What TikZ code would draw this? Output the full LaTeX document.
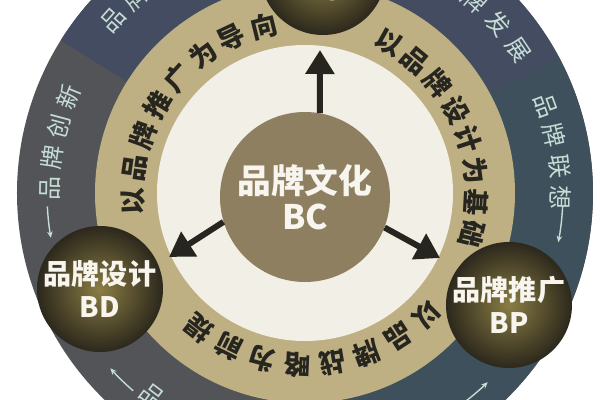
\documentclass[tikz,border=0pt]{standalone}
\usepackage{fontspec}
\usepackage{xcolor}
\usepackage{tikz}
\usetikzlibrary{arrows.meta}
\newfontfamily\cjk{Noto Sans CJK SC}
\definecolor{cream}{HTML}{F2EFE6}
\definecolor{khaki}{HTML}{BEB082}
\definecolor{corefill}{HTML}{8E7F60}
\definecolor{ringgray}{HTML}{525458}
\definecolor{ringslate}{HTML}{434C60}
\definecolor{ringteal}{HTML}{3D505B}
\definecolor{ringtext}{HTML}{C6DDD6}
\definecolor{ink}{HTML}{26251F}
\definecolor{ballin}{HTML}{8A7D44}
\definecolor{ballout}{HTML}{2C281C}
\definecolor{paper}{HTML}{F7F5EE}
\tikzset{
  ball/.style={circle, minimum size=31.5mm, inner sep=0pt, inner color=ballin, outer color=ballout,
    text=paper, align=center, font=\cjk\bfseries\fontsize{20}{23}\selectfont},
  core/.style={circle, minimum size=42.5mm, inner sep=0pt, fill=corefill,
    text=paper, align=center, font=\cjk\bfseries\fontsize{24}{26}\selectfont},
  arr/.style={draw=ink, line width=1.5mm, -{Triangle[length=6mm,width=7mm]}},
  midch/.style={text=ink, inner sep=0pt, font=\cjk\bfseries\fontsize{19}{19}\selectfont},
  outch/.style={text=ringtext, inner sep=0pt, font=\cjk\fontsize{17}{17}\selectfont},
  ringarr/.style={draw=ringtext, line width=0.35mm, -{Stealth[length=1.6mm,width=1.4mm]}},
}
\begin{document}
\begin{tikzpicture}[x=0.25mm, y=0.25mm]
  \useasboundingbox (-305,-207) rectangle (295,193);
  \clip (-305,-207) rectangle (295,193);
  \fill[white] (-305,-207) rectangle (295,193);
  % rings
  \fill[ringgray] (0,0) circle (288);
  \fill[ringslate] (0,0) -- (28:288) arc (28:148:288) -- cycle;
  \fill[ringteal] (0,0) -- (-90:288) arc (-90:28:288) -- cycle;
  \fill[khaki] (0,0) circle (210);
  \fill[cream] (0,0) circle (148);
  % outer ring words
  \foreach \ch [count=\i from 0] in {品,牌,创,新}
    \node[outch, rotate=89-7*\i] at ({179-7*\i}:255) {\ch};
  \foreach \ch [count=\i from 0] in {品,牌,联,想}
    \node[outch, rotate=-70-7*\i] at ({20-7*\i}:256) {\ch};
  \foreach \ch [count=\i from 0] in {品,牌,发,展}
    \node[outch, rotate=-34-7.4*\i] at ({56-7.4*\i}:257) {\ch};
  \foreach \ch [count=\i from 0] in {品,牌}
    \node[outch, rotate=48-7*\i] at ({138-7*\i}:258) {\ch};
  \node[outch, rotate=-37] at (233:254) {品};
  \draw[ringarr] (183:258) arc (183:190:258);
  \draw[ringarr] (-3:258) arc (-3:-11:258);
  \draw[ringarr] (229:262) arc (229:222:262);
  \draw[ringarr] (-53:263) arc (-53:-46:263);
  % middle ring words
  \foreach \ch [count=\i from 0] in {以,品,牌,推,广,为,导,向}
    \node[midch, rotate=93-11.3*\i] at ({183-11.3*\i}:172) {\ch};
  \foreach \ch [count=\i from 0] in {以,品,牌,设,计,为,基,础}
    \node[midch, rotate=-29-10.7*\i] at ({61-10.7*\i}:172) {\ch};
  \foreach \ch [count=\i from 0] in {以,品,牌,战,略,为,前,提}
    \node[midch, rotate=-135-11.9*\i] at ({-45-11.9*\i}:172) {\ch};
  % nodes
  \node[core] (bc) at (0,-4) {品牌文化\\BC};
  \node[ball] (bs) at (18,221) {\phantom{品牌}\\BS};
  \node[ball] (bd) at (-205,-96) {品牌设计\\BD};
  \node[ball] (bp) at (204,-112) {品牌推广\\BP};
  % arrows
  \coordinate (tipS) at (15,143);
  \coordinate (tipD) at (-136,-64);
  \coordinate (tipP) at (135,-65);
  \draw[arr] (bc.80) -- (tipS);
  \draw[arr] (bc.197) -- (tipD);
  \draw[arr] (bc.-21) -- (tipP);
\end{tikzpicture}
\end{document}
